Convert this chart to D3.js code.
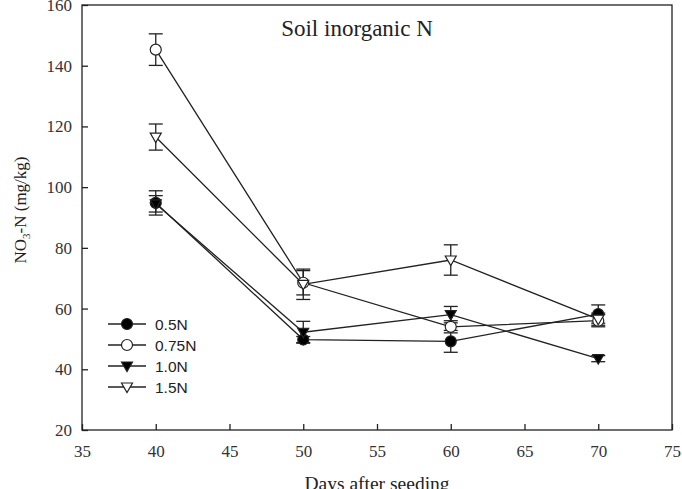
<!DOCTYPE html>
<html>
<head>
<meta charset="utf-8">
<script src="https://cdn.jsdelivr.net/npm/d3@7"></script>
<style>
  body { margin: 0; background: #fff; }
  svg { display: block; }
  .tick text { font-family: "Liberation Serif", "Times New Roman", serif; font-size: 17px; }
</style>
</head>
<body>
<svg id="chart"></svg>
<script>
// data
const days = [40, 50, 60, 70];
const seriesNames = ['0.5N', '0.75N', '1.0N', '1.5N'];
const valsHalf = [94.8, 49.8, 49.2, 58.2];
const errHalf = [4, 1, 3.6, 3];
const valsThreeQ = [145.3, 68.5, 54, 56];
const errThreeQ = [5.2, 4, 2, 2];
const valsOne = [94.5, 52.2, 58, 43.5];
const errOne = [2.7, 3.6, 2.7, 1];
const valsOneHalf = [116.5, 68, 76, 56.5];
const errOneHalf = [4.3, 5, 5, 2];
const xTicks = [35, 40, 45, 50, 55, 60, 65, 70, 75];
const yTicks = [20, 40, 60, 80, 100, 120, 140, 160];

const series = [
  { name: seriesNames[0], vals: valsHalf, err: errHalf, shape: d3.symbolCircle, fill: '#000' },
  { name: seriesNames[1], vals: valsThreeQ, err: errThreeQ, shape: d3.symbolCircle, fill: '#fff' },
  { name: seriesNames[2], vals: valsOne, err: errOne, shape: 'down', fill: '#000' },
  { name: seriesNames[3], vals: valsOneHalf, err: errOneHalf, shape: 'down', fill: '#fff' }
];

let w = 682;
let h = 489;
let svg = d3.select('#chart').attr('width', w).attr('height', h);

let xScale = d3.scaleLinear().domain([35, 75]).range([82, 672]);
let yScale = d3.scaleLinear().domain([20, 160]).range([430, 5]);

const ink = '#222';
const serif = '"Liberation Serif", "Times New Roman", serif';

function markerPath(shape) {
  if (shape === 'down') {
    // downward triangle
    return 'M-5.5,-4L5.5,-4L0,5.5Z';
  }
  return d3.symbol().type(shape).size(95)();
}

// frame
svg.append('rect')
  .attr('x', xScale(35)).attr('y', yScale(160))
  .attr('width', xScale(75) - xScale(35))
  .attr('height', yScale(20) - yScale(160))
  .attr('fill', 'none').attr('stroke', ink).attr('stroke-width', 1.3);

// AXES (ticks pointing inward)
let xAxis = svg.append('g')
  .attr('transform', `translate(0, ${yScale(20)})`)
  .call(d3.axisBottom(xScale).tickValues(xTicks).tickSizeInner(-6).tickSizeOuter(0).tickPadding(15));
let yAxis = svg.append('g')
  .attr('transform', `translate(${xScale(35)}, 0)`)
  .call(d3.axisLeft(yScale).tickValues(yTicks).tickSizeInner(-6).tickSizeOuter(0).tickPadding(10));

[xAxis, yAxis].forEach((g) => {
  g.attr('font-family', null).attr('font-size', null);
  g.select('.domain').remove();
  g.selectAll('line').attr('stroke', ink).attr('stroke-width', 1.3);
  g.selectAll('text').attr('fill', '#333');
});

// lines
let line = d3.line()
  .x((d, i) => xScale(days[i]))
  .y((d) => yScale(d));

series.forEach((s) => {
  svg.append('path')
    .datum(s.vals)
    .attr('d', line)
    .attr('fill', 'none')
    .attr('stroke', ink)
    .attr('stroke-width', 1.3);
});

// error bars
series.forEach((s) => {
  let g = svg.append('g').attr('stroke', ink).attr('stroke-width', 1.3);
  s.vals.forEach((v, i) => {
    let x = xScale(days[i]);
    let y0 = yScale(v - s.err[i]);
    let y1 = yScale(v + s.err[i]);
    g.append('line').attr('x1', x).attr('x2', x).attr('y1', y0).attr('y2', y1);
    g.append('line').attr('x1', x - 7).attr('x2', x + 7).attr('y1', y0).attr('y2', y0);
    g.append('line').attr('x1', x - 7).attr('x2', x + 7).attr('y1', y1).attr('y2', y1);
  });
});

// markers
series.forEach((s) => {
  svg.append('g').selectAll('path')
    .data(s.vals)
    .enter()
    .append('path')
    .attr('d', markerPath(s.shape))
    .attr('transform', (d, i) => `translate(${xScale(days[i])}, ${yScale(d)})`)
    .attr('fill', s.fill)
    .attr('stroke', ink)
    .attr('stroke-width', 1.2);
});

// legend
let legend = svg.append('g');
series.forEach((s, i) => {
  let y = 324 + i * 21;
  legend.append('line')
    .attr('x1', 108).attr('x2', 146).attr('y1', y).attr('y2', y)
    .attr('stroke', ink).attr('stroke-width', 1.3);
  legend.append('path')
    .attr('d', markerPath(s.shape))
    .attr('transform', `translate(127, ${y})`)
    .attr('fill', s.fill)
    .attr('stroke', ink)
    .attr('stroke-width', 1.2);
  legend.append('text')
    .attr('x', 155).attr('y', y + 5.5)
    .style('font-family', '"Liberation Sans", Arial, sans-serif')
    .style('font-size', '15.5px')
    .attr('fill', '#222')
    .text(s.name);
});

// title
svg.append('text')
  .attr('x', 357).attr('y', 36)
  .attr('text-anchor', 'middle')
  .style('font-family', serif)
  .style('font-size', '23px')
  .attr('fill', '#222')
  .text('Soil inorganic N');

// axis titles
svg.append('text')
  .attr('x', 377).attr('y', 490)
  .attr('text-anchor', 'middle')
  .style('font-family', serif)
  .style('font-size', '19.5px')
  .attr('fill', '#222')
  .text('Days after seeding');

let yLab = svg.append('text')
  .attr('transform', 'translate(26, 210) rotate(-90)')
  .attr('text-anchor', 'middle')
  .style('font-family', serif)
  .style('font-size', '17px')
  .attr('fill', '#222');
yLab.append('tspan').text('NO');
yLab.append('tspan').attr('dy', 4).style('font-size', '11px').text('3');
yLab.append('tspan').attr('dy', -4).text('-N (mg/kg)');
</script>
</body>
</html>
